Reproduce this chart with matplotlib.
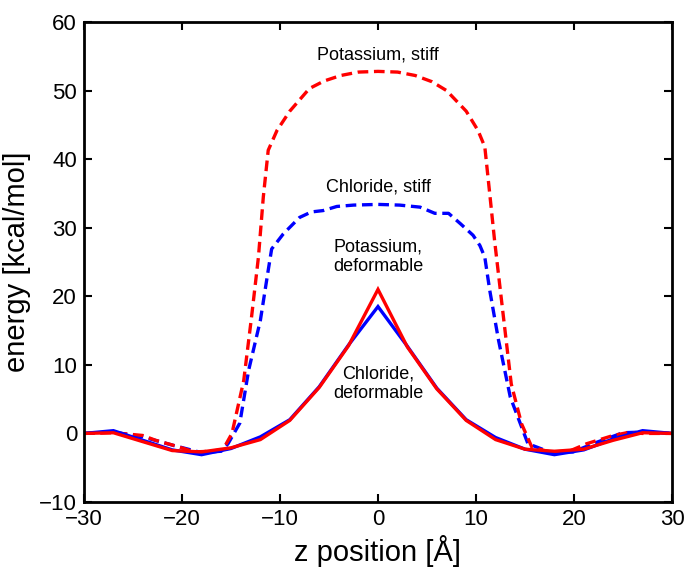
import matplotlib
matplotlib.use("Agg")
import matplotlib.pyplot as plt

plt.rcParams['font.family'] = ['Liberation Sans', 'DejaVu Sans']

# Deformable (solid) curves, 3 Å sampling
z_def = [-30, -27, -24, -21, -18, -15, -12, -9, -6, -3, 0, 3, 6, 9, 12, 15, 18, 21, 24, 27, 30]
cl_def = [0, 0.4, -1.0, -2.4, -3.1, -2.2, -0.5, 2.0, 6.8, 12.9, 18.5, 12.7, 6.6, 2.0, -0.6, -2.3, -3.1, -2.4, -0.8, 0.4, 0]
k_def = [0, 0.1, -1.2, -2.5, -2.7, -2.1, -0.9, 1.9, 6.7, 12.8, 21.0, 12.6, 6.5, 1.9, -0.9, -2.3, -2.6, -2.3, -1.0, 0.1, 0]

# Stiff (dashed) curves
z_k_stiff = [-30, -27, -24, -22.7, -21.2, -19.8, -18.8, -17.1, -16.0, -15.6, -14.9, -13.7, -12.9, -12.2,
             -11.7, -11.2, -10.3, -9, -7, -5.5, -3.8, -2, 0, 2, 3.8, 5.5, 7, 9, 10.2, 10.9, 11.4, 11.9,
             12.8, 13.6, 14.65, 15.7, 17.5, 19.5, 21.3, 24, 25.4, 27, 30]
k_stiff = [0, 0.1, -0.3, -1.0, -1.6, -2.2, -2.7, -2.6, -2.4, -1.8, 0.0, 7.7, 17.0, 25.7,
           34.5, 41.3, 44.2, 47.0, 50.3, 51.4, 52.2, 52.7, 52.8, 52.7, 52.2, 51.3, 50.0, 47.0, 44.2, 41.8, 35.0, 28.1,
           17.0, 7.2, 1.4, -2.0, -2.7, -2.6, -1.5, -0.3, 0.1, 0, 0]

z_cl_stiff = [-30, -27, -24, -21, -18, -16.0, -15.3, -14.1, -13.2, -12.0, -11.2, -10.85, -9.66, -8.0, -6.8,
              -5.6, -4.2, -2.5, 0, 2.2, 4.3, 5.8, 7.2, 8.4, 9.7, 10.4, 10.9, 11.4, 12.3, 13.5, 15.3,
              17.5, 19.9, 22.3, 25, 27, 30]
cl_stiff = [0, 0.2, -0.5, -1.7, -2.8, -2.6, -1.5, 1.5, 9.2, 16.5, 23.8, 26.9, 29.1, 31.5, 32.3,
            32.5, 33.1, 33.3, 33.4, 33.3, 33.0, 32.1, 32.1, 30.6, 28.9, 27.4, 25.7, 20.9, 13.6, 5.3, -1.5,
            -2.7, -2.7, -1.3, 0.1, 0.2, 0]

labels = ["Potassium, stiff", "Chloride, stiff", "Potassium,\ndeformable", "Chloride,\ndeformable"]
label_y = [55.2, 35.9, 25.8, 7.3]

fig = plt.figure(figsize=(6.85, 5.72), dpi=100)
ax = fig.add_axes([0.1226, 0.1224, 0.8584, 0.8391])

lw = 2.4
dash = (3.2, 1.7)
ax.plot(z_cl_stiff, cl_stiff, color='#0000ff', lw=lw, linestyle=(0, dash))
ax.plot(z_k_stiff, k_stiff, color='#ff0000', lw=lw, linestyle=(0, dash))
ax.plot(z_def, cl_def, color='#0000ff', lw=lw, solid_joinstyle='miter')
ax.plot(z_def, k_def, color='#ff0000', lw=lw, solid_joinstyle='miter')

for t, y in zip(labels, label_y):
    ax.text(0, y, t, ha='center', va='center', fontsize=13, linespacing=1.2)

ax.set_xlim(-30, 30)
ax.set_ylim(-10, 60)
ax.set_xticks([-30, -20, -10, 0, 10, 20, 30])
ax.set_yticks([-10, 0, 10, 20, 30, 40, 50, 60])
ax.tick_params(direction='in', length=6, width=1.5, top=True, right=True, labelsize=16, pad=5)
for s in ax.spines.values():
    s.set_linewidth(2)
ax.set_xlabel("z position [Å]", fontsize=21, labelpad=4)
ax.set_ylabel("energy [kcal/mol]", fontsize=21, labelpad=6)

fig.savefig("out.png", dpi=100)
